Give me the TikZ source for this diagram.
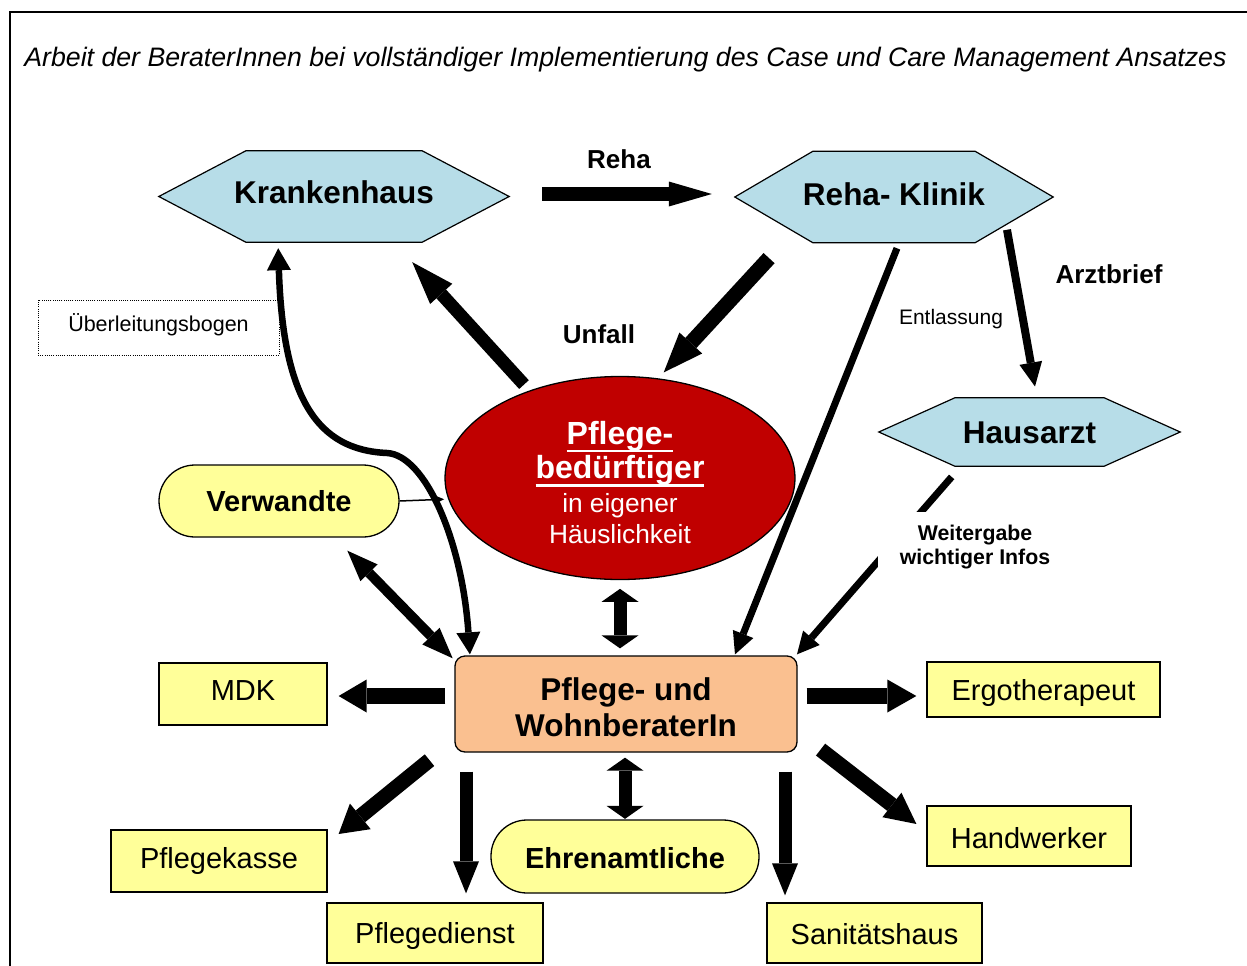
\documentclass[tikz,border=0pt]{standalone}
\usepackage{fontspec}
\setmainfont{Liberation Sans}
\usetikzlibrary{arrows.meta,shapes.geometric,backgrounds,calc}
\definecolor{hexblue}{HTML}{B7DDE8}
\definecolor{pbred}{HTML}{C00000}
\definecolor{peach}{HTML}{FAC090}
\definecolor{lyellow}{HTML}{FFFF99}
\newcommand\myul[1]{\setbox0\hbox{#1}\rlap{\rule[-8.3pt]{\wd0}{2.6pt}}\box0}
\newcommand\fsz[2]{\fontsize{#1}{#2}\selectfont}
\begin{document}
\begin{tikzpicture}[x=1pt,y=-1pt,
  every node/.style={inner sep=0pt},
  hexn/.style={font=\bfseries\fsz{31.5}{36}, text depth=0pt},
  hexshape/.style={fill=hexblue, draw=black, line width=1.2pt},
  ybox/.style={draw=black, line width=1.3pt, fill=lyellow, text depth=0pt, font=\fsz{29}{34}},
  ystad/.style={draw=black, line width=1.3pt, fill=lyellow, rounded corners=36pt, text depth=0pt, font=\bfseries\fsz{29}{34}},
  lbl/.style={font=\bfseries\fsz{26}{30}, anchor=base},
  tipT/.style n args={2}{-{Triangle[length=#1pt,width=#2pt,line width=0pt]}},
  dtipT/.style n args={2}{{Triangle[length=#1pt,width=#2pt,line width=0pt]}-{Triangle[length=#1pt,width=#2pt,line width=0pt]}},
]
\useasboundingbox (0,0) rectangle (1247,966);

% title
\node[font=\itshape\fsz{26.7}{30}, anchor=base] (title) at (625.5,66.7)
  {Arbeit der BeraterInnen bei vollständiger Implementierung des Case und Care Management Ansatzes};

% hexagon nodes
\node[hexn, minimum width=350pt, minimum height=91pt, text height=14pt] (kh) at (334,196.5) {Krankenhaus};
\node[hexn, minimum width=318pt, minimum height=91pt, text height=16pt] (rk) at (894,197) {Reha- Klinik};
\node[hexn, minimum width=301pt, minimum height=68pt, text height=22pt] (ha) at (1029.5,432) {Hausarzt};
\begin{scope}[on background layer]
  \fill[white] (0,0) rectangle (1247,966);
  \draw[line width=2.2pt] (1260,12) -- (10,12) -- (10,980);
  \draw[hexshape] (kh.west) -- ([xshift=87pt]kh.north west) -- ([xshift=-87pt]kh.north east) -- (kh.east)
     -- ([xshift=-87pt]kh.south east) -- ([xshift=87pt]kh.south west) -- cycle;
  \draw[hexshape] (rk.west) -- ([xshift=78pt]rk.north west) -- ([xshift=-78pt]rk.north east) -- (rk.east)
     -- ([xshift=-78pt]rk.south east) -- ([xshift=78pt]rk.south west) -- cycle;
  \draw[hexshape] (ha.west) -- ([xshift=76pt]ha.north west) -- ([xshift=-76pt]ha.north east) -- (ha.east)
     -- ([xshift=-76pt]ha.south east) -- ([xshift=76pt]ha.south west) -- cycle;
\end{scope}

% central ellipse
\node[ellipse, draw=black, line width=1.3pt, fill=pbred, text=white, align=center,
  minimum width=350pt, minimum height=203pt, font=\fsz{26.3}{30}] (ell) at (620,478)
  {{\bfseries\fsz{32}{36}\rule{0pt}{32pt}\myul{Pflege-}}\\[2pt]{\bfseries\fsz{32}{36}\myul{bedürftiger}}\\[4pt]in eigener\\[1pt]Häuslichkeit};

% counsellor box
\node[draw=black, line width=1.3pt, fill=peach, rounded corners=10pt, align=center,
  minimum width=342pt, minimum height=96pt, font=\bfseries\fsz{31.5}{36.7}] (wb) at (626,704)
  {\rule{0pt}{29pt}Pflege- und\\WohnberaterIn};

% rounded yellow
\node[ystad, minimum width=240pt, minimum height=72pt, text height=21.4pt] (vw) at (279,501) {Verwandte};
\node[ystad, minimum width=268pt, minimum height=73pt, text height=23pt] (eh) at (625,856.5) {Ehrenamtliche};

% yellow boxes
\node[ybox, minimum width=168pt, minimum height=62pt, text height=12pt] (mdk) at (243,694) {MDK};
\node[ybox, minimum width=233pt, minimum height=55pt, text height=22pt] (ergo) at (1043.5,689.5) {Ergotherapeut};
\node[ybox, minimum width=204pt, minimum height=60pt, text height=24pt] (hw) at (1029,836) {Handwerker};
\node[ybox, minimum width=216pt, minimum height=62pt, text height=14pt] (pk) at (219,861) {Pflegekasse};
\node[ybox, minimum width=216pt, minimum height=60pt, text height=20pt] (pd) at (435,933) {Pflegedienst};
\node[ybox, minimum width=215pt, minimum height=60pt, text height=22pt] (sh) at (874.5,933) {Sanitätshaus};

% dotted note
\node[draw=black, dash pattern=on 1pt off 1.2pt, line width=1pt, minimum width=241pt, minimum height=55pt,
  text height=7pt, text depth=0pt, font=\fsz{21.5}{25}] (ueb) at (158.5,327.5) {Überleitungsbogen};

% labels
\node[lbl] (lreha) at (619,168.3) {Reha};
\node[lbl] (lunf) at (599,343.3) {Unfall};
\node[lbl] (larzt) at (1109,283.3) {Arztbrief};
\node[font=\fsz{21}{25}, anchor=base] (lent) at (951,324.3) {Entlassung};

% arrows
\draw[line width=14pt, tipT={43}{25}, shorten <=33pt, shorten >=23pt] ([yshift=2.5pt]kh.east) -- ([yshift=3pt]rk.west);
\draw[line width=13pt, tipT={43}{30}, shorten <=8pt, shorten >=27pt] (ell.136.5) -- ([xshift=60pt]kh.south);
\draw[line width=15pt, tipT={40}{31}, shorten <=21pt, shorten >=8pt] ([xshift=-110.7pt]rk.south) -- (ell.69.25);
\draw[line width=7pt, tipT={22}{22}, shorten <=6pt, shorten >=1pt] ([xshift=5.2pt]rk.south) -- ([xshift=108.6pt]wb.north);
\draw[line width=8pt, tipT={24}{23}, shorten <=79.7pt, shorten >=11.5pt] ([xshift=99pt]rk.north) -- ([xshift=7.5pt]ha.north);
\draw[line width=7pt, tipT={22}{22}, shorten <=14.2pt, shorten >=1.3pt] ([xshift=-68.5pt]ha.south) -- ([xshift=170.1pt]wb.north);
\node[font=\bfseries\fsz{21.3}{24}, fill=white, align=center, inner xsep=22pt, inner ysep=12.4pt, anchor=north]
  (lwg) at (975,512) {Weitergabe\\wichtiger Infos};

\draw[line width=1.5pt, tipT={10}{9}, shorten >=4pt] (vw.east) -- (ell.187.2);
\draw[line width=10pt, dtipT={31}{24}, shorten <=18.2pt, shorten >=2.4pt] ([xshift=55.6pt]vw.south) -- ([yshift=44pt]wb.west);
\coordinate (bend) at (387,453);
\draw[line width=6.5pt, dtipT={22}{24}, shorten <=6pt, shorten >=1pt]
  ([xshift=-56pt]kh.south) .. controls (283,400) and (318,450) .. (bend) .. controls (425,455) and (462,540) .. ([xshift=-156pt]wb.north);
\draw[line width=13pt, dtipT={13}{37}, shorten <=8.7pt, shorten >=7pt] (ell.south) -- (ell.south |- wb.north);
\draw[line width=13pt, dtipT={13}{37}, shorten <=5pt, shorten >=0.5pt] (eh.north |- wb.south) -- (eh.north);

\draw[line width=16pt, tipT={28}{33}, shorten <=9pt, shorten >=11pt] ([yshift=8pt]wb.west) -- ([yshift=-2pt]mdk.east);
\draw[line width=16pt, tipT={29}{33}, shorten <=9pt, shorten >=10pt] ([yshift=8pt]wb.east) -- ([yshift=-6.5pt]ergo.west);
\draw[line width=15pt, tipT={28}{33}, shorten <=32pt, shorten >=14.1pt] ([yshift=-36pt]wb.west) -- ([yshift=18.1pt]pk.east);
\draw[line width=13pt, tipT={32}{26}, shorten <=19pt, shorten >=9pt] ([xshift=-160pt]wb.south) -- ([xshift=-160pt]wb.south |- pd.north);
\draw[line width=13pt, tipT={32}{26}, shorten <=19pt, shorten >=7pt] ([xshift=159pt]wb.south) -- ([xshift=159pt]wb.south |- sh.north);
\draw[line width=15pt, tipT={31}{31}, shorten <=29pt, shorten >=12.6pt] ([yshift=-27.8pt]wb.east) -- ([yshift=4.3pt]hw.west);
\end{tikzpicture}
\end{document}
